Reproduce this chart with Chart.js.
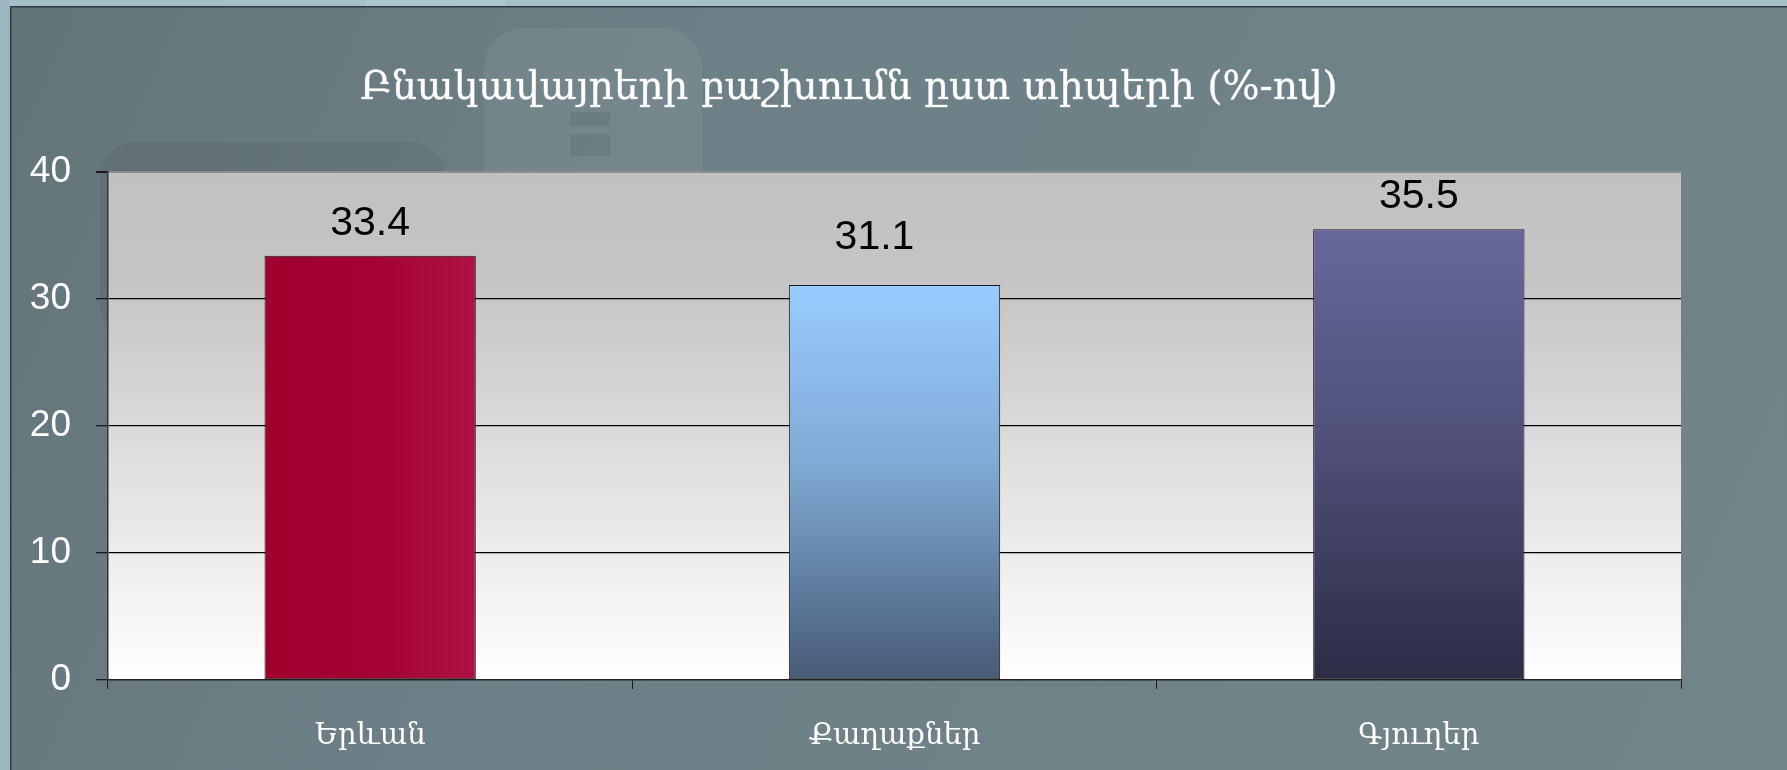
<!DOCTYPE html>
<html>
<head>
<meta charset="utf-8">
<script src="https://cdn.jsdelivr.net/npm/chart.js@4.4.1/dist/chart.umd.min.js"></script>
<style>
  html, body { margin: 0; padding: 0; background: #6f8188; }
  #wrap { width: 1787px; height: 770px; }
</style>
</head>
<body>
<div id="wrap"><canvas id="c" width="1787" height="770"></canvas></div>
<script>
// ---- data ----
const chartTitle = "Բնակավայրերի բաշխումն ըստ տիպերի (%-ով)";
const categories = ["Երևան", "Քաղաքներ", "Գյուղեր"];
const shares = [33.4, 31.1, 35.5];
const yTicks = [0, 10, 20, 30, 40];

const FONT_SANS = '"Liberation Sans", Arial, sans-serif';
const FONT_ARM = '"DejaVu Serif", "Noto Serif", serif';

function barGradient(ctx) {
  const chart = ctx.chart;
  const area = chart.chartArea;
  const i = ctx.dataIndex;
  if (!area || i === undefined) return ['#a30030', '#99ccff', '#666699'][i || 0];
  const c = chart.ctx;
  const xs = chart.scales.x, ys = chart.scales.y;
  const v = shares[i];
  const yTop = ys.getPixelForValue(v), yBot = ys.getPixelForValue(0);
  if (i === 0) {
    const cx = xs.getPixelForValue(i);
    const g = c.createLinearGradient(cx - 106, 0, cx + 106, 0);
    g.addColorStop(0, '#a0002e');
    g.addColorStop(0.5, '#a30233');
    g.addColorStop(1, '#ae1242');
    return g;
  }
  const g = c.createLinearGradient(0, yTop, 0, yBot);
  if (i === 1) {
    g.addColorStop(0, '#99ccff');
    g.addColorStop(0.45, '#80aad5');
    g.addColorStop(1, '#465b76');
  } else {
    g.addColorStop(0, '#67679b');
    g.addColorStop(0.45, '#51517c');
    g.addColorStop(1, '#2c2c44');
  }
  return g;
}

const backgroundPlugin = {
  id: 'slideBg',
  beforeDraw(chart) {
    const c = chart.ctx;
    const W = chart.width, H = chart.height;
    c.save();
    // base slide
    const bg = c.createLinearGradient(0, 0, W, H);
    bg.addColorStop(0, '#637479');
    bg.addColorStop(0.35, '#6e8087');
    bg.addColorStop(1, '#718489');
    c.fillStyle = bg;
    c.fillRect(0, 0, W, H);
    // decorative light panel (top middle)
    c.fillStyle = 'rgba(255,255,255,0.06)';
    c.beginPath();
    c.roundRect(484, 28, 218, 200, 40);
    c.fill();
    c.fillStyle = 'rgba(0,0,0,0.07)';
    c.fillRect(570, 112, 40, 14);
    c.fillRect(570, 134, 40, 22);
    // decorative darker panel (left)
    c.fillStyle = 'rgba(0,0,0,0.05)';
    c.beginPath();
    c.roundRect(100, 142, 346, 200, 36);
    c.fill();
    // frame strips
    c.fillStyle = '#a3bfc7';
    c.fillRect(0, 0, W, 7);
    c.fillStyle = 'rgba(255,255,255,0.12)';
    c.fillRect(365, 0, 140, 7);
    c.fillStyle = '#9ab6be';
    c.fillRect(0, 0, 10, H);
    c.fillStyle = '#2e3a3f';
    c.fillRect(10, 6, W - 10, 1.5);
    c.fillRect(10, 6, 1.5, H - 6);
    // plot area
    const a = chart.chartArea;
    const pg = c.createLinearGradient(0, a.top, 0, a.bottom);
    pg.addColorStop(0, '#c1c1c1');
    pg.addColorStop(0.22, '#c5c5c5');
    pg.addColorStop(1, '#ffffff');
    c.fillStyle = pg;
    c.fillRect(a.left, a.top, a.right - a.left, a.bottom - a.top);
    c.restore();
  },
  afterDraw(chart, args, opts) {
    const c = chart.ctx;
    c.save();
    c.fillStyle = '#ffffff';
    c.strokeStyle = 'rgba(255,255,255,0.6)';
    c.lineWidth = 0.6;
    c.font = opts.titleFont;
    c.textAlign = 'center';
    c.textBaseline = 'alphabetic';
    c.fillText(chartTitle, opts.titleX, opts.titleY);
    c.strokeText(chartTitle, opts.titleX, opts.titleY);
    c.restore();
  }
};

const valueLabelPlugin = {
  id: 'valueLabels',
  afterDatasetsDraw(chart, args, opts) {
    const c = chart.ctx;
    const meta = chart.getDatasetMeta(0);
    c.save();
    c.fillStyle = '#000';
    c.font = opts.font;
    c.textAlign = 'center';
    c.textBaseline = 'alphabetic';
    meta.data.forEach((bar, i) => {
      const sh = opts.shift[i] || [0, 0];
      c.fillText(shares[i].toFixed(1), bar.x + sh[0], bar.y - opts.gap + sh[1]);
    });
    c.restore();
  }
};

new Chart(document.getElementById('c'), {
  type: 'bar',
  data: {
    labels: categories,
    datasets: [{
      data: shares,
      backgroundColor: barGradient,
      borderColor: '#1a1a1a',
      borderWidth: 1,
      borderSkipped: false,
      barPercentage: 1.0,
      categoryPercentage: 0.403
    }]
  },
  plugins: [backgroundPlugin, valueLabelPlugin],
  options: {
    responsive: false,
    animation: false,
    layout: { padding: { left: 0, top: 172, right: 106, bottom: 0 } },
    plugins: {
      legend: { display: false },
      title: { display: false },
      tooltip: { enabled: false },
      slideBg: { titleFont: '39px ' + FONT_ARM, titleX: 849, titleY: 99 },
      valueLabels: { font: '41px ' + FONT_SANS, gap: 21, shift: [[0, 0], [-20, -15], [0, 0]] }
    },
    scales: {
      x: {
        afterFit(s) { s.height = 90; },
        grid: {
          offset: true,
          drawOnChartArea: true,
          tickLength: 9,
          color: (ctx) => ctx.index === categories.length ? '#8c8c8c' : 'rgba(0,0,0,0)',
          tickColor: '#1a1a1a',
          lineWidth: 1
        },
        border: { display: true, color: '#222', width: 1.5 },
        ticks: {
          color: '#ffffff',
          font: { family: FONT_ARM, size: 29 },
          padding: 30
        }
      },
      y: {
        min: yTicks[0],
        max: yTicks[yTicks.length - 1],
        afterFit(s) { s.width = 108; },
        afterBuildTicks(s) { s.ticks = yTicks.map(v => ({ value: v })); },
        grid: {
          tickLength: 12,
          color: (ctx) => {
            const v = ctx.tick ? ctx.tick.value : null;
            if (v === yTicks[0]) return 'rgba(0,0,0,0)';
            if (v === yTicks[yTicks.length - 1]) return '#8c8c8c';
            return '#000000';
          },
          tickColor: '#1a1a1a',
          lineWidth: (ctx) => (ctx.tick && ctx.tick.value === yTicks[yTicks.length - 1]) ? 2 : 1.3
        },
        border: { display: true, color: '#333', width: 1.5 },
        ticks: {
          color: '#ffffff',
          font: { family: FONT_SANS, size: 37 },
          padding: 25
        }
      }
    }
  }
});
</script>
</body>
</html>
